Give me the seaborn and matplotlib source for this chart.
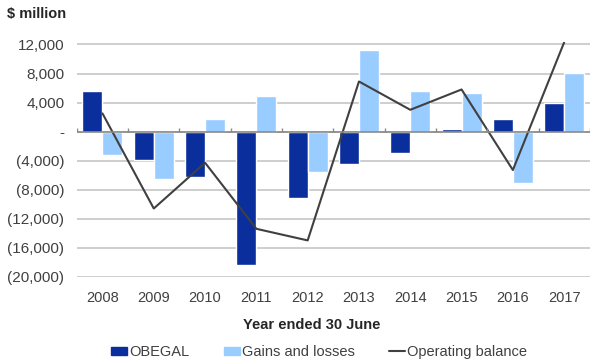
import numpy as np
import pandas as pd
import seaborn as sns
import matplotlib.pyplot as plt
from matplotlib.patches import Patch
from matplotlib.lines import Line2D

# values in $ million
years = ['2008', '2009', '2010', '2011', '2012', '2013', '2014', '2015', '2016', '2017']
obegal = [5600, -3900, -6200, -18400, -9200, -4400, -2900, 400, 1800, 4000]
gains = [-3200, -6600, 1800, 4900, -5600, 11200, 5600, 5300, -7100, 8100]
op_balance = [2500, -10600, -4300, -13400, -15000, 6900, 3000, 5800, -5300, 12300]

yticks = [-20000, -16000, -12000, -8000, -4000, 0, 4000, 8000, 12000]

dark_blue = '#0a2f9c'
light_blue = '#99ccff'
line_col = '#404040'


def fmt(v):
    # accounting style labels
    if v == 0:
        return '-'
    if v < 0:
        return '({:,})'.format(-v)
    return '{:,}'.format(v)


df = pd.DataFrame({
    'year': years * 2,
    'value': obegal + gains,
    'series': ['OBEGAL'] * len(years) + ['Gains and losses'] * len(years),
})

sns.set_style('white')
plt.rcParams['font.family'] = ['Liberation Sans', 'DejaVu Sans']

fig = plt.figure(figsize=(5.91, 3.61), dpi=100)
ax = fig.add_axes([0.130, 0.2335, 0.868, 0.6513])

sns.barplot(data=df, x='year', y='value', hue='series',
            palette=[dark_blue, light_blue], width=0.78, gap=0,
            saturation=1, ax=ax, legend=False, zorder=3)
sns.lineplot(x=years, y=op_balance, color=line_col, linewidth=1.5,
             ax=ax, zorder=4, sort=False)

ax.set_ylim(-20000, 12400)
ax.set_xlim(-0.5, len(years) - 0.5)
ax.set_yticks(yticks)
ax.set_yticklabels([fmt(v) for v in yticks])
ax.yaxis.grid(True, color='#c6c6c6', linewidth=1.2, zorder=0)
ax.set_axisbelow(True)
for s in ax.spines.values():
    s.set_visible(False)

# zero axis with small category ticks
ax.axhline(0, color='#8a8a8a', linewidth=1.2, zorder=5)
ax.vlines(np.arange(len(years) + 1) - 0.5, 0, 500, color='#8a8a8a',
          linewidth=1, zorder=5)

ax.tick_params(axis='both', length=0, labelcolor='#404040')
ax.tick_params(axis='x', pad=10, labelsize=10.5)
ax.tick_params(axis='y', pad=9, labelsize=11)
ax.set_xlabel('')
ax.set_ylabel('')

fig.text(0.012, 0.961, '$ million', fontsize=10.5, fontweight='bold',
         va='center', ha='left')
fig.text(0.527, 0.1, 'Year ended 30 June', fontsize=10.5, fontweight='bold',
         va='center', ha='center')

handles = [Patch(color=dark_blue), Patch(color=light_blue),
           Line2D([0], [0], color=line_col, linewidth=1.5)]
labels = ['OBEGAL', 'Gains and losses', 'Operating balance']
fig.legend(handles, labels, loc='center', bbox_to_anchor=(0.54, 0.025),
           ncol=3, frameon=False, fontsize=10.5, handlelength=1.1,
           handleheight=0.5, handletextpad=0.1, columnspacing=2.4,
           labelcolor='#404040')

fig.savefig('out.png', dpi=100)
